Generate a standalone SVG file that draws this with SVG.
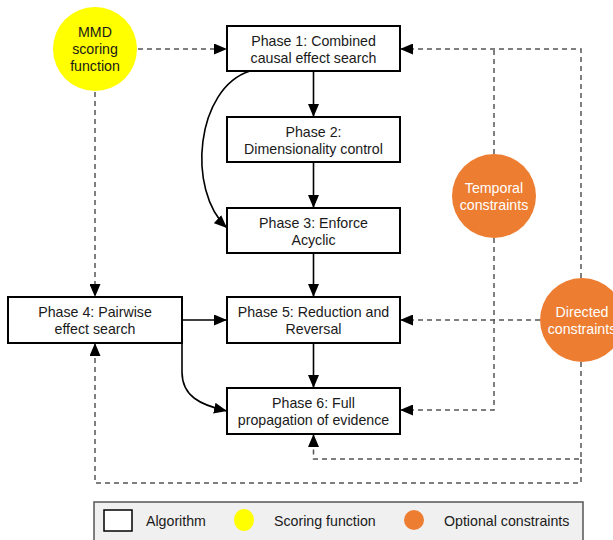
<svg xmlns="http://www.w3.org/2000/svg" width="613" height="540" viewBox="0 0 613 540">
<defs>
<marker id="ah" viewBox="0 0 13 11" refX="13" refY="5.5" markerWidth="13" markerHeight="11" markerUnits="userSpaceOnUse" orient="auto">
<path d="M0,0 L13,5.5 L0,11 Z" fill="#000"/>
</marker>
</defs>
<style>
text{font-family:"Liberation Sans",Arial,sans-serif;font-size:14.2px;fill:#1a1a1a;text-anchor:middle}
.box{fill:#fff;stroke:#000;stroke-width:2}
.solid{fill:none;stroke:#000;stroke-width:1.6}
.dash{fill:none;stroke:#555;stroke-width:1.5;stroke-dasharray:5,4}
.w{fill:#fff}
.lt{text-anchor:start}
</style>
<rect width="613" height="540" fill="#fff"/>
<g id="connectors">
<line class="dash" x1="138" y1="49" x2="227" y2="49" marker-end="url(#ah)"/>
<line class="dash" x1="95" y1="92" x2="95" y2="297" marker-end="url(#ah)"/>
<line class="solid" x1="313.5" y1="71" x2="313.5" y2="117" marker-end="url(#ah)"/>
<line class="solid" x1="313.5" y1="162" x2="313.5" y2="208" marker-end="url(#ah)"/>
<line class="solid" x1="313.5" y1="253" x2="313.5" y2="297" marker-end="url(#ah)"/>
<line class="solid" x1="313.5" y1="343" x2="313.5" y2="388" marker-end="url(#ah)"/>
<path class="solid" d="M250,71 C196,88 186,190 227,228" marker-end="url(#ah)"/>
<line class="solid" x1="182" y1="320" x2="227" y2="320" marker-end="url(#ah)"/>
<path class="solid" d="M182,343 L182,372 C182,396 200,405 227,411" marker-end="url(#ah)"/>
<path class="dash" d="M581,278 L581,49 L400,49" marker-end="url(#ah)"/>
<line class="dash" x1="494" y1="154" x2="494" y2="49"/>
<path class="dash" d="M494,238 L494,410 L400,410" marker-end="url(#ah)"/>
<line class="dash" x1="540" y1="320" x2="400" y2="320" marker-end="url(#ah)"/>
<path class="dash" d="M581,362 L581,459 L313.5,459 L313.5,434" marker-end="url(#ah)"/>
<path class="dash" d="M581,459 L581,483 L95,483 L95,343" marker-end="url(#ah)"/>
</g>
<g id="mmd">
<circle cx="95" cy="49" r="42" fill="#ffff00"/>
<text x="95" y="37">MMD</text>
<text x="95" y="54">scoring</text>
<text x="95" y="71">function</text>
</g>
<g id="phase1">
<rect class="box" x="227" y="26" width="173" height="45"/>
<text x="313.5" y="46">Phase 1: Combined</text>
<text x="313.5" y="63">causal effect search</text>
</g>
<g id="phase2">
<rect class="box" x="227" y="117" width="173" height="45"/>
<text x="313.5" y="137">Phase 2:</text>
<text x="313.5" y="154">Dimensionality control</text>
</g>
<g id="phase3">
<rect class="box" x="227" y="208" width="173" height="45"/>
<text x="313.5" y="228">Phase 3: Enforce</text>
<text x="313.5" y="245">Acyclic</text>
</g>
<g id="phase4">
<rect class="box" x="8" y="297" width="174" height="46"/>
<text x="95" y="317">Phase 4: Pairwise</text>
<text x="95" y="334">effect search</text>
</g>
<g id="phase5">
<rect class="box" x="227" y="297" width="173" height="46"/>
<text x="313.5" y="317">Phase 5: Reduction and</text>
<text x="313.5" y="334">Reversal</text>
</g>
<g id="phase6">
<rect class="box" x="227" y="388" width="173" height="46"/>
<text x="313.5" y="408">Phase 6: Full</text>
<text x="313.5" y="425">propagation of evidence</text>
</g>
<g id="temporal">
<circle cx="494" cy="196" r="42" fill="#ed7d31"/>
<text class="w" x="494" y="193">Temporal</text>
<text class="w" x="494" y="210">constraints</text>
</g>
<g id="directed">
<circle cx="582" cy="320" r="42" fill="#ed7d31"/>
<text class="w" x="582" y="317">Directed</text>
<text class="w" x="582" y="334">constraints</text>
</g>
<g id="legend">
<rect x="94" y="502" width="489" height="42" fill="#f0f0f0" stroke="#555" stroke-width="1.5"/>
<rect x="104" y="510" width="28" height="21" fill="#fff" stroke="#000" stroke-width="1.5"/>
<text class="lt" x="146" y="526">Algorithm</text>
<ellipse cx="244" cy="520" rx="10" ry="11" fill="#ffff00"/>
<text class="lt" x="274" y="526">Scoring function</text>
<circle cx="414" cy="520" r="10" fill="#ed7d31"/>
<text class="lt" x="444" y="526">Optional constraints</text>
</g>
</svg>
